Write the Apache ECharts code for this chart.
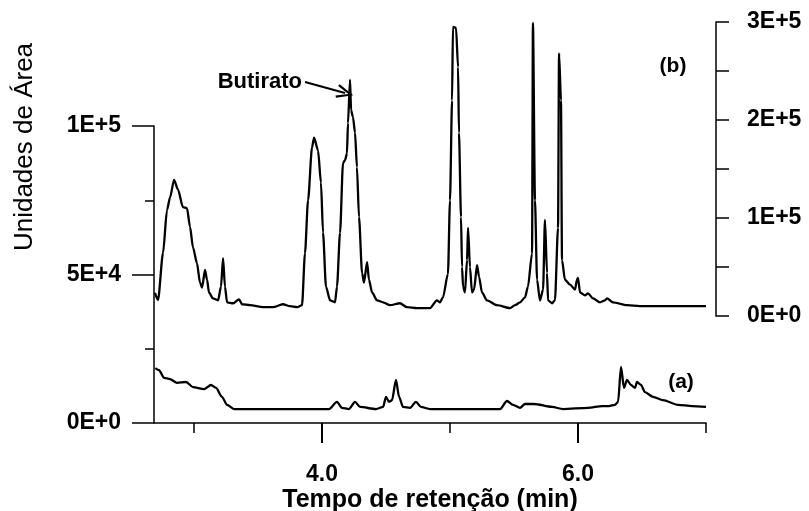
<!DOCTYPE html>
<html>
<head>
<meta charset="utf-8">
<script src="https://cdn.jsdelivr.net/npm/echarts@6/dist/echarts.min.js"></script>
<style>html,body{margin:0;padding:0;background:#fff}#c{width:809px;height:511px}</style>
</head>
<body>
<div id="c"></div>
<script>
// Trace (b) - right axis
var bX = [2.695,2.719,2.758,2.789,2.813,2.844,2.875,2.914,2.945,2.969,2.992,3.023,3.047,3.063,3.086,3.102,3.117,3.148,3.188,3.211,3.227,3.242,3.258,3.305,3.352,3.375,3.438,3.539,3.617,3.695,3.750,3.805,3.844,3.867,3.891,3.922,3.938,3.969,3.992,4.008,4.031,4.063,4.102,4.117,4.141,4.164,4.180,4.195,4.203,4.219,4.227,4.242,4.258,4.273,4.289,4.313,4.328,4.352,4.367,4.391,4.430,4.477,4.531,4.609,4.664,4.742,4.844,4.898,4.922,4.945,4.984,5.000,5.016,5.023,5.047,5.063,5.070,5.086,5.094,5.102,5.117,5.133,5.141,5.156,5.172,5.188,5.211,5.227,5.250,5.289,5.367,5.469,5.508,5.547,5.586,5.609,5.641,5.648,5.664,5.680,5.703,5.727,5.742,5.758,5.766,5.797,5.820,5.844,5.852,5.867,5.875,5.898,5.938,5.977,5.992,6.000,6.016,6.055,6.078,6.117,6.172,6.211,6.227,6.273,6.383,6.484,6.695,7.0];
var bY = [23500,16300,64300,108000,121000,139000,129000,111000,110000,91000,70000,54000,34000,29000,47000,37000,24000,18000,16000,30000,59000,30000,14000,13000,17000,12000,11000,9000,9000,12000,10000,9000,11000,64000,118000,172000,182000,169000,136000,85000,30000,16000,14000,30000,85000,156000,159000,166000,197000,241000,210000,203000,187000,152000,101000,44000,34000,55000,37000,24000,16000,14000,11000,13000,9000,8000,8000,16000,14000,19000,43000,118000,220000,295000,294000,254000,187000,101000,50000,30000,24000,57000,90000,50000,24000,27000,52000,40000,24000,16000,11000,8000,11000,14000,19000,30000,64000,299000,118000,37000,16000,27000,98000,44000,16000,13000,16000,90000,268000,220000,57000,37000,32000,27000,37000,39000,24000,21000,23000,18000,14000,16000,18000,14000,11000,10000,10000,10000];
// Trace (a) - left axis
var aX = [2.698,2.727,2.766,2.813,2.867,2.938,2.992,3.078,3.133,3.172,3.219,3.258,3.313,4.055,4.117,4.156,4.211,4.258,4.297,4.422,4.477,4.500,4.523,4.547,4.578,4.602,4.633,4.688,4.734,4.773,4.844,5.391,5.445,5.492,5.547,5.586,5.656,5.797,5.883,6.078,6.188,6.242,6.289,6.313,6.336,6.359,6.383,6.414,6.445,6.461,6.492,6.523,6.586,6.664,6.781,6.891,7.0];
var aY = [18500,17800,15200,14800,13500,13800,12100,11400,12800,11800,8800,6100,4700,4700,7100,5100,4700,7100,5400,4700,5400,8800,7100,7700,14500,8800,5400,5100,7100,5400,4700,4700,7400,6100,5100,6400,6400,5400,4700,5100,5700,5700,6100,7100,18900,11800,14500,12800,11800,13800,12800,10400,8800,7700,6100,5700,5400];
// x range and tick layout
var XMIN = 2.6875, XMAX = 7.0;
var xMajorTicks = [4, 6];                   // labelled ticks 4.0, 6.0
var xMajorRange = [4, 8], xMajorStep = 2;   // (8 falls outside the canvas)
var xMinorRange = [3, 7], xMinorStep = 2;   // small ticks 3, 5, 7
var arrowFrom = [3.867, 238800];
var arrowTo = [4.18, 227600];

function pairs(xs, ys){ return xs.map(function(x,i){ return [x, ys[i]]; }); }
function sci(v){
  if (v === 0) return '0E+0';
  var e = Math.floor(Math.log10(v) + 1e-9);
  var m = Math.round(v / Math.pow(10, e));
  return m + 'E+' + e;
}
var FONT = "'Liberation Sans', Arial, sans-serif";
var lab = {color:'#000', fontFamily:FONT, fontWeight:'bold', fontSize:23};
var tickStyle = {color:'#000', width:1.5};

// pixel layout of the main plot (x from XMIN..XMAX)
var PL = 154, PR = 706, H = 511, W = 809;
var pxPerUnit = (PR - PL) / (XMAX - XMIN);
function px(x){ return PL + (x - XMIN) * pxPerUnit; }
var G = {outerBoundsMode:'none', containLabel:false, top:126, bottom:88};

var chart = echarts.init(document.getElementById('c'));
chart.setOption({
  animation:false,
  backgroundColor:'#fff',
  grid:[
    Object.assign({left:PL, right:W-PR}, G),
    {left:PL, right:W-PR, top:22, bottom:195, outerBoundsMode:'none', containLabel:false},
    Object.assign({left:px(xMajorRange[0]), right:W-px(xMajorRange[1])}, G),
    Object.assign({left:px(xMinorRange[0]), right:W-px(xMinorRange[1])}, G),
    {left:PL, right:W-PR, top:H-88, bottom:68, outerBoundsMode:'none', containLabel:false}
  ],
  xAxis:[
    {type:'value', gridIndex:0, position:'bottom', min:XMIN, max:XMAX,
     axisLine:{show:true, lineStyle:{color:'#000', width:1.5}},
     axisTick:{show:false}, axisLabel:{show:false}, splitLine:{show:false},
     name:'Tempo de retenção (min)', nameLocation:'middle', nameGap:65,
     nameTextStyle:{color:'#000', fontFamily:FONT, fontWeight:'bold', fontSize:25}
    },
    {type:'value', gridIndex:1, min:XMIN, max:XMAX, show:false},
    {type:'value', gridIndex:2, position:'bottom', min:xMajorRange[0], max:xMajorRange[1], interval:xMajorStep,
     axisLine:{show:false},
     axisTick:{show:true, length:20, lineStyle:tickStyle},
     axisLabel:Object.assign({margin:40, formatter:function(v){return v <= XMAX ? v.toFixed(1) : '';}}, lab),
     splitLine:{show:false}
    },
    {type:'value', gridIndex:3, position:'bottom', min:xMinorRange[0], max:xMinorRange[1], interval:xMinorStep,
     axisLine:{show:false},
     axisTick:{show:true, length:10, lineStyle:tickStyle},
     axisLabel:{show:false}, splitLine:{show:false}
    },
    {type:'value', gridIndex:4, min:XMIN, max:XMAX, show:false}
  ],
  yAxis:[
    {type:'value', gridIndex:0, min:0, max:100000, interval:50000,
     axisLine:{show:true, lineStyle:{color:'#000', width:1.5}},
     axisTick:{show:true, length:22, lineStyle:tickStyle},
     minorTick:{show:true, splitNumber:2, length:9, lineStyle:tickStyle},
     axisLabel:Object.assign({margin:33, formatter:sci}, lab),
     splitLine:{show:false}
    },
    {type:'value', gridIndex:1, position:'right', offset:10, min:0, max:300000, interval:100000,
     axisLine:{show:true, lineStyle:{color:'#000', width:1.5}},
     axisTick:{show:true, length:13, lineStyle:tickStyle},
     minorTick:{show:true, splitNumber:2, length:13, lineStyle:tickStyle},
     axisLabel:Object.assign({margin:31, formatter:sci}, lab),
     splitLine:{show:false}
    },
    {type:'value', gridIndex:2, show:false},
    {type:'value', gridIndex:3, show:false},
    {type:'value', gridIndex:4, min:0, max:1, inverse:true, show:false}
  ],
  series:[
    {type:'line', name:'(b)', xAxisIndex:1, yAxisIndex:1, data:pairs(bX,bY), symbol:'none',
     smooth:0.25, smoothMonotone:'x', lineStyle:{color:'#000', width:2.3},
     markLine:{silent:true, symbol:['none','path://M0,0 L7,16 L5,17 L0,5 L-5,17 L-7,16 Z'], symbolSize:[14,17],
       lineStyle:{color:'#000', width:2, type:'solid'}, label:{show:false},
       data:[[{coord:arrowFrom},{coord:arrowTo}]]}
    },
    {type:'line', name:'(a)', xAxisIndex:0, yAxisIndex:0, data:pairs(aX,aY), symbol:'none',
     smooth:0.25, smoothMonotone:'x', lineStyle:{color:'#000', width:2.3}},
    // major tick marks at 4.0 and 6.0, hanging below the x axis
    {type:'bar', name:'majorTicks', xAxisIndex:4, yAxisIndex:4, barWidth:2, silent:true,
     itemStyle:{color:'#000'}, data:xMajorTicks.map(function(v){ return [v, 1]; })}
  ],
  graphic:[
    {type:'text', position:[25,147], rotation:Math.PI/2,
     style:{text:'Unidades de Área', align:'center', verticalAlign:'middle', fill:'#000', font:"26px 'Liberation Sans', Arial, sans-serif"}},
    {type:'text', position:[302,82], style:{text:'Butirato', align:'right', verticalAlign:'middle', fill:'#000', font:"bold 22px 'Liberation Sans', Arial, sans-serif"}},
    {type:'text', position:[673,66], style:{text:'(b)', align:'center', verticalAlign:'middle', fill:'#000', font:"bold 21px 'Liberation Sans', Arial, sans-serif"}},
    {type:'text', position:[681,382], style:{text:'(a)', align:'center', verticalAlign:'middle', fill:'#000', font:"bold 21px 'Liberation Sans', Arial, sans-serif"}}
  ]
});
</script>
</body>
</html>
